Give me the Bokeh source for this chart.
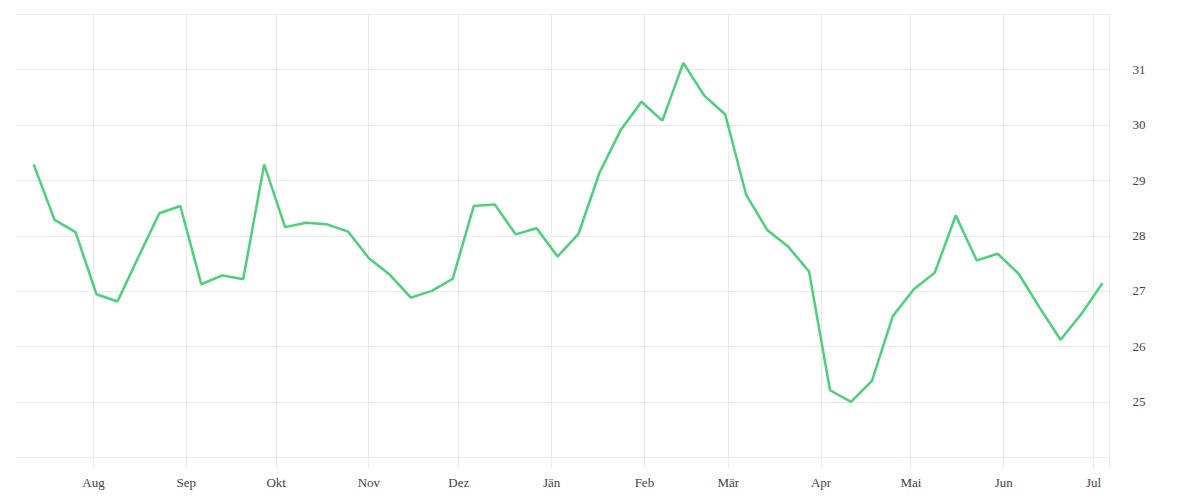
import pandas as pd
from bokeh.plotting import figure
from bokeh.models import ColumnDataSource, FixedTicker, Range1d
from bokeh.embed import file_html
from bokeh.resources import INLINE

# ---- data ----
start_date = "2018-07-12"
values = [29.29, 28.29, 28.07, 26.95, 26.82, 27.62, 28.41, 28.54, 27.13, 27.29,
          27.22, 29.29, 28.16, 28.24, 28.21, 28.08, 27.60, 27.30, 26.89, 27.01,
          27.23, 28.54, 28.57, 28.03, 28.14, 27.63, 28.04, 29.14, 29.90, 30.42,
          30.08, 31.12, 30.53, 30.19, 28.74, 28.11, 27.81, 27.36, 25.22, 25.01,
          25.39, 26.56, 27.04, 27.34, 28.37, 27.56, 27.68, 27.32, 26.71, 26.13,
          26.60, 27.15]
month_starts = ["2018-08-01", "2018-09-01", "2018-10-01", "2018-11-01", "2018-12-01",
                "2019-01-01", "2019-02-01", "2019-03-01", "2019-04-01", "2019-05-01",
                "2019-06-01", "2019-07-01"]
month_labels = ["Aug", "Sep", "Okt", "Nov", "Dez", "Jän", "Feb", "Mär", "Apr", "Mai",
                "Jun", "Jul"]
y_ticks = [24, 25, 26, 27, 28, 29, 30, 31, 32]

dates = pd.date_range(start_date, periods=len(values), freq="7D")
src = ColumnDataSource(dict(x=dates, y=values))

def ms(ts):
    return float(pd.Timestamp(ts).value // 10**6)

x_start = pd.Timestamp("2018-08-01") - pd.Timedelta(days=26.05)
x_end = pd.Timestamp("2019-07-01") + pd.Timedelta(days=5.68)
x_edge = pd.Timestamp("2019-07-01") + pd.Timedelta(days=5.5)

p = figure(frame_width=1095, frame_height=445, output_backend="svg",
           toolbar_location=None, y_axis_location="right",
           x_range=Range1d(ms(x_start), ms(x_end)), y_range=Range1d(23.99, 32.01),
           min_border_left=15, min_border_top=13, min_border_right=82,
           min_border_bottom=34)
p.outline_line_color = None
p.background_fill_color = "white"
p.border_fill_color = "white"

p.line("x", "y", source=src, line_color="#4cd17b", line_width=2.5)

xt = [ms(m) for m in month_starts] + [ms(x_edge)]
x_over = {ms(m): lab for m, lab in zip(month_starts, month_labels)}
x_over[ms(x_edge)] = ""
xticker = FixedTicker(ticks=xt)
p.xaxis.ticker = xticker
p.xaxis.major_label_overrides = x_over
p.xgrid.ticker = xticker
p.xaxis.axis_line_color = None
p.xaxis.major_tick_line_color = "#ebebeb"
p.xaxis.major_tick_out = 10
p.xaxis.major_tick_in = 0
p.xaxis.minor_tick_line_color = None
p.xaxis.major_label_standoff = 6

yticker = FixedTicker(ticks=y_ticks)
p.yaxis.ticker = yticker
p.ygrid.ticker = yticker
p.yaxis.major_label_overrides = {24: "", 32: ""}
p.yaxis.axis_line_color = None
p.yaxis.major_tick_line_color = None
p.yaxis.minor_tick_line_color = None
p.yaxis.major_label_standoff = 16

for ax in (p.xaxis, p.yaxis):
    ax.major_label_text_font = "Liberation Serif"
    ax.major_label_text_font_size = "13px"
    ax.major_label_text_color = "#444444"

p.xgrid.grid_line_color = "#ebebeb"
p.ygrid.grid_line_color = "#ebebeb"

open("out.html", "w").write(file_html(p, INLINE))
